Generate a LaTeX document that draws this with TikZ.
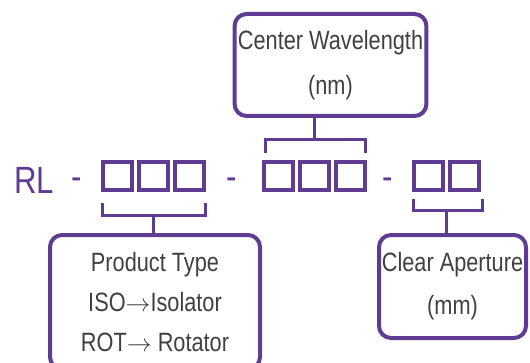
\documentclass[tikz,border=0pt]{standalone}
\usepackage{fontspec}
\setmainfont[FakeStretch=0.82]{Liberation Sans}
\usetikzlibrary{arrows,shapes,positioning}
\definecolor{rlpurple}{RGB}{95,60,145}
\definecolor{labelgrey}{RGB}{64,64,64}
\tikzstyle{labelbox} = [rectangle, rounded corners=12pt, draw=rlpurple, line width=4pt, text=labelgrey, align=center]
\tikzstyle{digit} = [rectangle, draw=rlpurple, line width=4pt, minimum width=29pt, minimum height=28pt, inner sep=0pt]
\tikzstyle{code} = [text=rlpurple, font=\fontsize{38}{38}\selectfont, inner sep=0pt, anchor=base]
\tikzstyle{brace} = [draw=rlpurple, line width=3pt]

\begin{document}
\begin{tikzpicture}[x=1pt, y=1pt, node distance=36pt]
\useasboundingbox (0,0) rectangle (530,362);

\node (wl) [labelbox, minimum width=191pt, minimum height=102pt, font=\fontsize{26.5}{45}\selectfont] at (330.5,297) {Center Wavelength\\(nm)};

\node (rl) [code] at (34,169) {RL};
\node (d1) [code] at (77,172) {-};
\node (d2) [code] at (231.5,172) {-};
\node (d3) [code] at (387.5,172) {-};

\node (a1) [digit] at (117.5,186) {};
\node (a2) [digit, right of=a1] {};
\node (a3) [digit, right of=a2] {};

\node (b1) [digit] at (278.5,186) {};
\node (b2) [digit, right of=b1] {};
\node (b3) [digit, right of=b2] {};

\node (c1) [digit] at (428.5,186) {};
\node (c2) [digit, right of=c1] {};

\node (pt) [labelbox, minimum width=210pt, minimum height=134pt, font=\fontsize{26.5}{40}\selectfont] at (155,60) {Product Type\\ISO$\rightarrow$Isolator\\ROT$\rightarrow$ Rotator};
\node (ca) [labelbox, minimum width=147pt, minimum height=103pt, inner sep=1pt, font=\fontsize{26.5}{43}\selectfont] at (452.5,75.5) {Clear Aperture\\(mm)};

% brackets
\coordinate (wlbrace) at ([yshift=20pt]b2.north);
\coordinate (ptbrace) at ([yshift=-23pt]a2.south);
\coordinate (cabrace) at ([xshift=1.5pt,yshift=-18pt]c1.south east);

\draw [brace] ([xshift=3pt,yshift=7pt]b1.north west) |- (wlbrace) -| ([xshift=-2pt,yshift=7pt]b3.north east);
\draw [brace] (wlbrace) -- (wlbrace |- wl.south);

\draw [brace] ([xshift=1pt,yshift=-11pt]a1.south west) |- (ptbrace) -| ([xshift=-1pt,yshift=-11pt]a3.south east);
\draw [brace] (ptbrace) -- (ptbrace |- pt.north);

\draw [brace] ([xshift=1pt,yshift=-7pt]c1.south west) |- (cabrace) -| ([xshift=1pt,yshift=-7pt]c2.south east);
\draw [brace] (cabrace) -- (cabrace |- ca.north);

\end{tikzpicture}
\end{document}
